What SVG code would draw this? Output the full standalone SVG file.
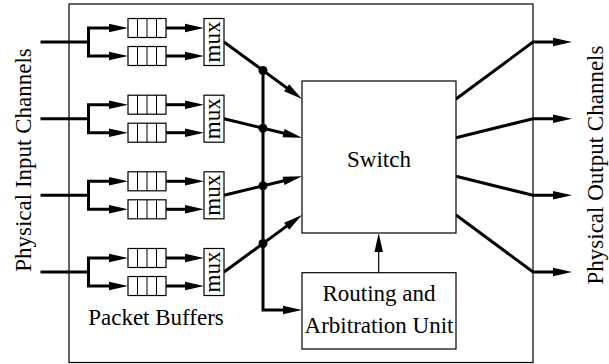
<svg xmlns="http://www.w3.org/2000/svg" width="609" height="364" viewBox="0 0 609 364">
  <style>
    text { font-family: "Liberation Serif", "Times New Roman", serif; font-size: 23px; fill: #000; }
    .box { fill: #fff; stroke: #000; stroke-width: 1.2; }
    .frame { fill: none; stroke: #000; stroke-width: 1.2; }
    .cell { stroke: #000; stroke-width: 1; fill: none; }
    .wire { fill: none; stroke: #000; stroke-width: 3; stroke-linejoin: miter; }
    .thin { fill: none; stroke: #000; stroke-width: 1.2; }
    .mid { text-anchor: middle; }
  </style>
  <defs>
    <marker id="ah" markerUnits="userSpaceOnUse" markerWidth="19" markerHeight="9" refX="9" refY="4.25" orient="auto-start-reverse" overflow="visible">
      <path d="M0,0 L19,4.25 L0,8.5 z" fill="#000"/>
    </marker>
    <!-- four-cell FIFO buffer -->
    <g id="fifo">
      <rect class="box" x="0" y="0" width="38" height="19"/>
      <path class="cell" d="M9.5,0 V19 M19,0 V19 M28.5,0 V19"/>
    </g>
  </defs>

  <!-- router frame -->
  <g id="router">
    <rect class="frame" x="69" y="4" width="464" height="358.5"/>
  </g>

  <!-- connectors -->
  <g id="connectors" marker-end="url(#ah)">
    <!-- channel 1 -->
    <path class="wire" d="M40.5,42 H88.5" marker-end="none"/>
    <path class="wire" d="M118,28 H88.5 V56 H118" marker-start="url(#ah)"/>
    <path class="wire" d="M166,28 H194"/>
    <path class="wire" d="M166,56 H194"/>
    <!-- channel 2 -->
    <path class="wire" d="M40.5,118.7 H88.5" marker-end="none"/>
    <path class="wire" d="M118,104.7 H88.5 V132.7 H118" marker-start="url(#ah)"/>
    <path class="wire" d="M166,104.7 H194"/>
    <path class="wire" d="M166,132.7 H194"/>
    <!-- channel 3 -->
    <path class="wire" d="M40.5,195.3 H88.5" marker-end="none"/>
    <path class="wire" d="M118,181.3 H88.5 V209.3 H118" marker-start="url(#ah)"/>
    <path class="wire" d="M166,181.3 H194"/>
    <path class="wire" d="M166,209.3 H194"/>
    <!-- channel 4 -->
    <path class="wire" d="M40.5,272 H88.5" marker-end="none"/>
    <path class="wire" d="M118,258 H88.5 V286 H118" marker-start="url(#ah)"/>
    <path class="wire" d="M166,258 H194"/>
    <path class="wire" d="M166,286 H194"/>

    <!-- mux outputs into the switch -->
    <path class="wire" d="M224,42 L293.9,93.1"/>
    <path class="wire" d="M224,118.7 L292.3,135.3"/>
    <path class="wire" d="M224,195.3 L292.3,178.7"/>
    <path class="wire" d="M224,272 L293.9,220.9"/>

    <!-- header bus to the routing unit -->
    <path class="wire" d="M263,70.5 V310 H292"/>
    <g fill="#000" stroke="none">
      <circle cx="263" cy="70.5" r="4.5"/>
      <circle cx="263" cy="128.2" r="4.5"/>
      <circle cx="263" cy="185.8" r="4.5"/>
      <circle cx="263" cy="243.5" r="4.5"/>
    </g>

    <!-- routing decision to the switch -->
    <path class="thin" d="M378.7,272.7 V243"/>

    <!-- switch outputs -->
    <path class="wire" d="M456,99 L533,42 H562"/>
    <path class="wire" d="M456,137.7 L533,118.7 H562"/>
    <path class="wire" d="M456,176.3 L533,195.3 H562"/>
    <path class="wire" d="M456,215 L533,272 H562"/>
  </g>

  <!-- packet buffers -->
  <g id="buf-1a"><use href="#fifo" x="128" y="18.5"/></g>
  <g id="buf-1b"><use href="#fifo" x="128" y="46.5"/></g>
  <g id="buf-2a"><use href="#fifo" x="128" y="95.2"/></g>
  <g id="buf-2b"><use href="#fifo" x="128" y="123.2"/></g>
  <g id="buf-3a"><use href="#fifo" x="128" y="171.8"/></g>
  <g id="buf-3b"><use href="#fifo" x="128" y="199.8"/></g>
  <g id="buf-4a"><use href="#fifo" x="128" y="248.5"/></g>
  <g id="buf-4b"><use href="#fifo" x="128" y="276.5"/></g>

  <!-- multiplexers -->
  <g id="mux-1">
    <rect class="box" x="204" y="18.5" width="20" height="47"/>
    <text class="mid" transform="translate(220,42) rotate(-90)">mux</text>
  </g>
  <g id="mux-2">
    <rect class="box" x="204" y="95.2" width="20" height="47"/>
    <text class="mid" transform="translate(220,118.7) rotate(-90)">mux</text>
  </g>
  <g id="mux-3">
    <rect class="box" x="204" y="171.8" width="20" height="47"/>
    <text class="mid" transform="translate(220,195.3) rotate(-90)">mux</text>
  </g>
  <g id="mux-4">
    <rect class="box" x="204" y="248.5" width="20" height="47"/>
    <text class="mid" transform="translate(220,272) rotate(-90)">mux</text>
  </g>

  <!-- crossbar switch -->
  <g id="switch">
    <rect class="box" x="302" y="81" width="154" height="152"/>
    <text class="mid" x="379" y="166.5">Switch</text>
  </g>

  <!-- routing and arbitration unit -->
  <g id="routing">
    <rect class="box" x="302" y="272.7" width="154" height="76.3"/>
    <text class="mid" x="379" y="300.7">Routing and</text>
    <text class="mid" x="379" y="332.7">Arbitration Unit</text>
  </g>

  <!-- labels -->
  <g id="labels">
    <text class="mid" x="156" y="325.3">Packet Buffers</text>
    <text class="mid" transform="translate(31,160) rotate(-90)">Physical Input Channels</text>
    <text class="mid" transform="translate(603,165) rotate(-90)">Physical Output Channels</text>
  </g>
</svg>
